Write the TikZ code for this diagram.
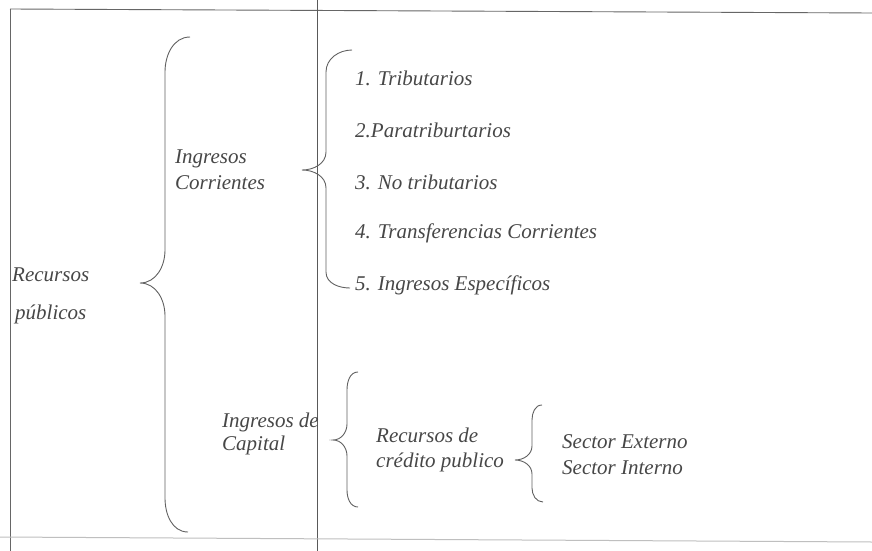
\documentclass[tikz,border=0pt]{standalone}
\usepackage{fontspec}
\setmainfont{Liberation Serif}
\begin{document}
\begin{tikzpicture}[x=1pt,y=-1pt,
  txt/.style={anchor=west,inner sep=0pt,text=black!72,font=\itshape\fontsize{21}{26}\selectfont,align=left},
  frame/.style={draw=black!60,line width=0.9pt},
  faint/.style={draw=black!25,line width=1pt},
  brc/.style={draw=black!62,line width=0.9pt}]
\useasboundingbox (0,0) rectangle (872,551);
\fill[white] (0,0) rectangle (872,551);
% frame lines
\draw[frame] (10,9) -- (872,13);
\draw[frame] (10,9) -- (10,551);
\draw[draw=black!65,line width=0.7pt] (317,0) -- (317,551);
\draw[faint] (0,537) -- (872,542);
% texts
\node[txt,font=\itshape\fontsize{21}{38}\selectfont] (rp) at (12,296) {Recursos\\\hspace*{3pt}públicos};
\node[txt] (ic) at (175,170) {Ingresos\\Corrientes};
\node[txt] (t1) at (355,78) {1. Tributarios};
\node[txt] (t2) at (355,130) {2.Paratriburtarios};
\node[txt] (t3) at (355,182) {3. No tributarios};
\node[txt] (t4) at (355,233) {4. Transferencias Corrientes};
\node[txt] (t5) at (355,285) {5. Ingresos Específicos};
\node[txt,font=\itshape\fontsize{21}{23}\selectfont] (icap) at (222,434) {Ingresos de\\Capital};
\node[txt,font=\itshape\fontsize{21}{25}\selectfont] (rcp) at (376,450) {Recursos de\\crédito publico};
\node[txt] (se) at (562,455) {Sector Externo\\Sector Interno};
% braces
\draw[brc] (190,37) to[out=180,in=90] (165,72) -- (165,250)
  to[out=270,in=0] (140,283) to[out=0,in=90] (165,316) -- (165,498)
  to[out=270,in=180] (188,532);
\draw[brc] (352,50) to[out=180,in=90] (326,72) -- (326,152)
  to[out=270,in=0] (302,170) to[out=0,in=90] (326,188) -- (326,272)
  to[out=270,in=180] (350,288);
\draw[brc] (358,372) to[out=180,in=90] (347,390) -- (347,424)
  to[out=270,in=0] (333,440) to[out=0,in=90] (347,456) -- (347,490)
  to[out=270,in=180] (358,507);
\draw[brc] (542,405) to[out=180,in=90] (532,420) -- (532,446)
  to[out=270,in=0] (515,460) to[out=0,in=90] (532,474) -- (532,488)
  to[out=270,in=180] (543,502);
\end{tikzpicture}
\end{document}
